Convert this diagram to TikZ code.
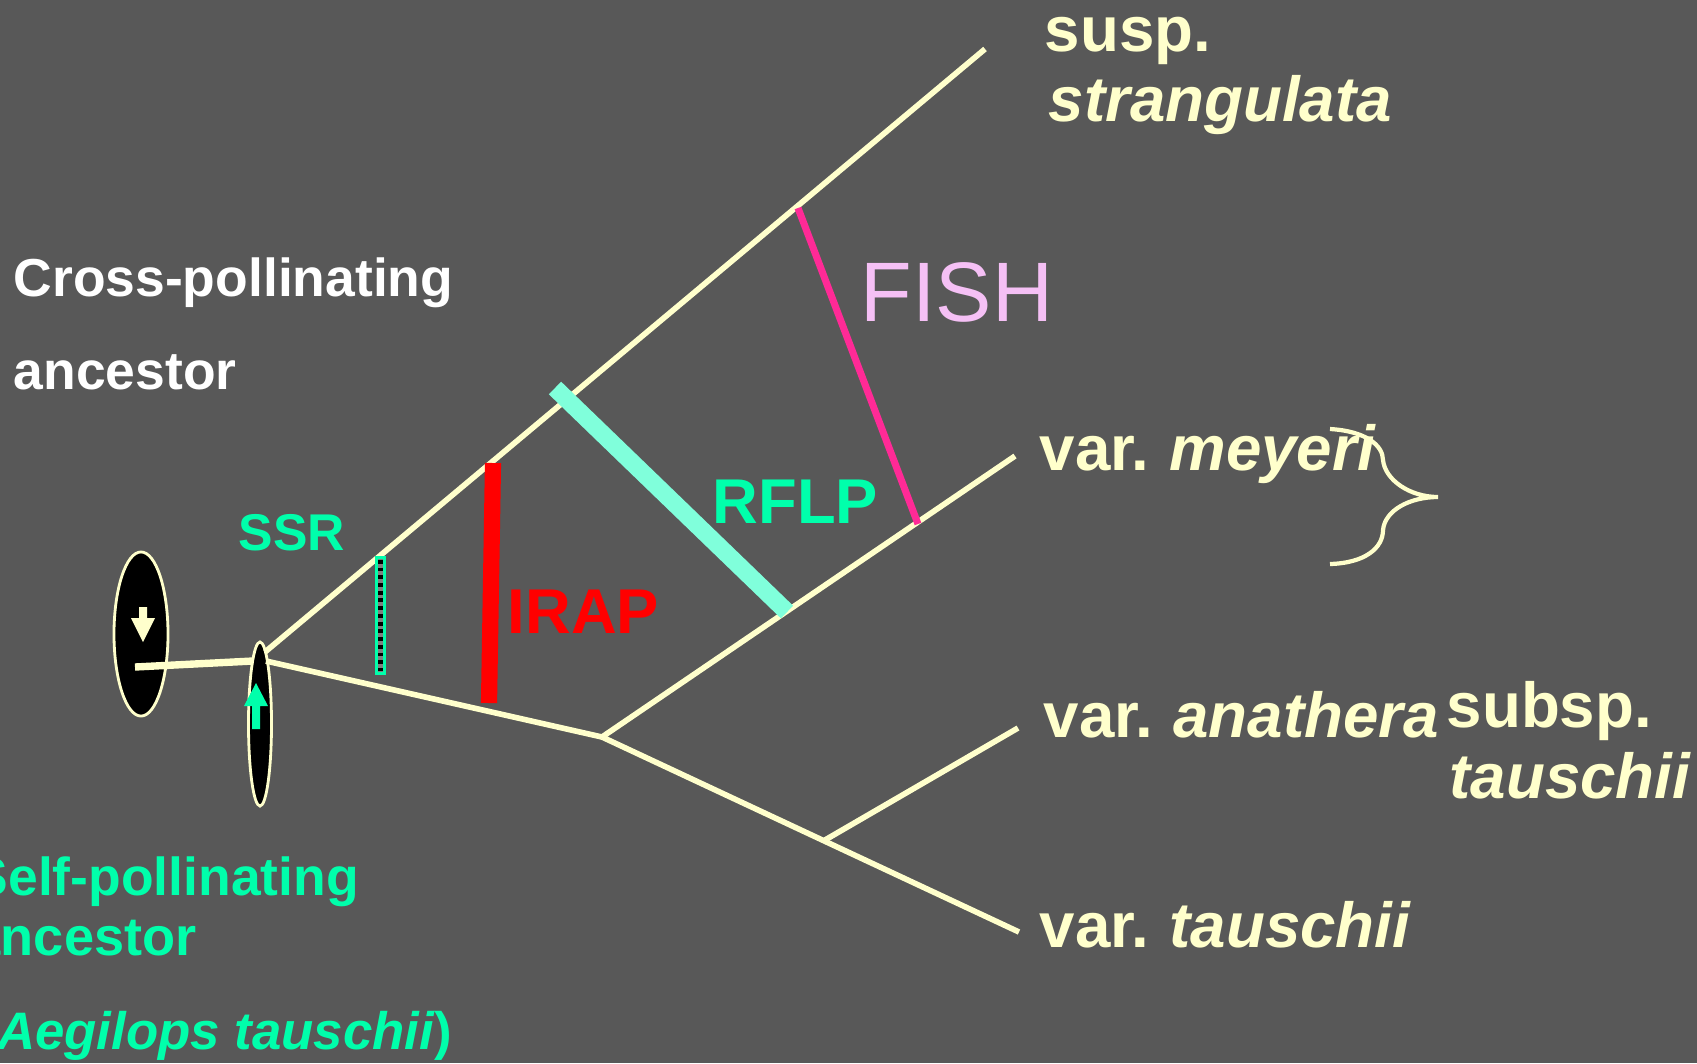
\documentclass[tikz,border=0pt]{standalone}
\usepackage{fontspec}
\setmainfont{Liberation Sans}
\definecolor{slidegray}{HTML}{585858}
\definecolor{cream}{HTML}{FFFFCC}
\definecolor{mint}{HTML}{00FFAB}
\definecolor{aqua}{HTML}{80FFDB}
\definecolor{hotpink}{HTML}{FF2A96}
\definecolor{lilac}{HTML}{F5C0F5}
\newcommand{\varname}[1]{var.\hspace{-1pt} \textit{#1}}
\tikzset{
  treelabel/.style={anchor=base west, inner sep=0pt, text=cream,
                    font=\fontsize{18.1}{20}\selectfont\bfseries},
  ancestorlabel/.style={anchor=base west, inner sep=0pt, text=mint,
                    font=\fontsize{15.2}{18}\selectfont\bfseries},
  markerlabel/.style={anchor=base west, inner sep=0pt,
                    font=\fontsize{18}{20}\selectfont\bfseries},
  branch/.style={draw=cream, line width=1.6pt},
  flower/.style={ellipse, draw=cream, fill=black, line width=0.8pt,
                 inner sep=0pt}
}
\usetikzlibrary{shapes.geometric}
\begin{document}
\begin{tikzpicture}[x=0.01cm, y=-0.01cm]
  \useasboundingbox (0,0) rectangle (1697,1063);
  \clip (0,0) rectangle (1697,1063);
  \fill[slidegray] (0,0) rectangle (1697,1063);
  % tree points
  \coordinate (stem) at (135,667);
  \coordinate (rootup) at (265,652);
  \coordinate (rootlow) at (266,661);
  \coordinate (split) at (602,737);
  \coordinate (lower) at (825,840);
  \coordinate (strangend) at (985,49);
  \coordinate (meyend) at (1015,456);
  \coordinate (anaend) at (1018,728);
  \coordinate (tauend) at (1019,932);
  % pollinating forms
  \node[flower, minimum width=0.54cm, minimum height=1.64cm] (crossform) at (141,634) {};
  \node[flower, minimum width=0.23cm, minimum height=1.64cm] (selfform) at (260,724) {};
  \draw[branch] (rootup) -- (strangend);
  \draw[branch] (rootlow) -- (split);
  \draw[branch] (split) -- (meyend);
  \draw[branch] (split) -- (tauend);
  \draw[branch] (lower) -- (anaend);
  \draw[branch, line width=2.1pt] (stem) -- (253,661);
  \fill[cream] (139,607) -- (147,607) -- (147,618) -- (155,618) -- (143,642)
    -- (131,618) -- (139,618) -- cycle;
  \fill[mint] (252,729) -- (260,729) -- (260,706) -- (268,706) -- (256,683)
    -- (244,706) -- (252,706) -- cycle;
  % markers
  \node[draw=mint, fill=gray, line width=0.7pt, minimum width=0.08cm,
        minimum height=1.16cm, inner sep=0pt] (ssrbar) at (380.5,615.5) {};
  \draw[black, line width=1.3pt, dash pattern=on 1.1pt off 1.1pt]
    ([yshift=-1pt]ssrbar.north) -- ([yshift=1pt]ssrbar.south);
  \coordinate (irapa) at (493,463);
  \coordinate (irapb) at (489,703);
  \coordinate (rflpa) at (555,388);
  \coordinate (rflpb) at (787,612);
  \coordinate (fisha) at (798,208);
  \coordinate (fishb) at (918,524);
  \draw[red, line width=4.6pt] (irapa) -- (irapb);
  \draw[aqua, line width=5pt] (rflpa) -- (rflpb);
  \draw[hotpink, line width=2pt] (fisha) -- (fishb);
  \draw[cream, line width=1.2pt] (1330,429) .. controls (1365,431) and (1383,445) .. (1383,460)
    .. controls (1385,480) and (1410,497) .. (1438,497)
    .. controls (1410,497) and (1385,510) .. (1383,530)
    .. controls (1383,548) and (1365,563) .. (1330,564);
  % labels
  \node[treelabel] (susp) at (1044,51) {susp.};
  \node[treelabel] (strang) at (1048,121) {\itshape strangulata};
  \node[treelabel] (meyeri) at (1039,470) {\varname{meyeri}};
  \node[treelabel] (anathera) at (1043,737) {\varname{anathera}};
  \node[treelabel] (tauschii) at (1039,947) {\varname{tauschii}};
  \node[treelabel] (subsp) at (1446,727) {subsp.};
  \node[treelabel] (subspname) at (1449,798) {\itshape tauschii};
  \node[ancestorlabel, text=white] (crossa) at (13,296) {Cross-pollinating};
  \node[ancestorlabel, text=white] (crossb) at (13,389) {ancestor};
  \node[ancestorlabel] (selfa) at (-28,895) {Self-pollinating};
  \node[ancestorlabel, font=\fontsize{15.4}{18}\selectfont\bfseries] (selfb) at (-30,955) {ancestor};
  \node[ancestorlabel, font=\fontsize{15}{18}\selectfont\bfseries] (selfc) at (-21,1049)
    {(\textit{Aegilops tauschii})};
  \node[ancestorlabel, font=\fontsize{14.7}{18}\selectfont\bfseries] (ssr) at (238,550) {SSR};
  \node[markerlabel, text=mint] (rflp) at (712,523) {RFLP};
  \node[markerlabel, text=red] (irap) at (507,633) {IRAP};
  \node[anchor=base west, inner sep=0pt, text=lilac,
        font=\fontsize{24}{26}\selectfont] (fish) at (860,321) {FISH};
\end{tikzpicture}
\end{document}
